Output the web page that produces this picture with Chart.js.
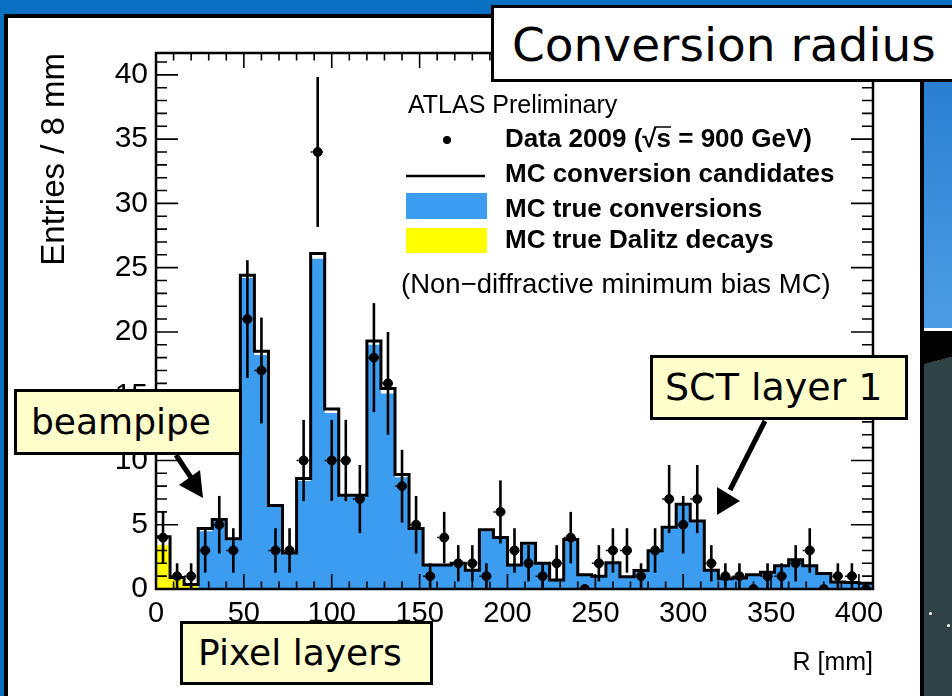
<!DOCTYPE html>
<html>
<head>
<meta charset="utf-8">
<script src="https://cdn.jsdelivr.net/npm/chart.js@4.4.0/dist/chart.umd.min.js"></script>
<style>
  html, body { margin: 0; padding: 0; }
  body { width: 952px; height: 696px; overflow: hidden; position: relative; background: #0a70c2; }
  #sideBlue { position: absolute; left: 922px; top: 80px; width: 30px; height: 248px; background: linear-gradient(#2a7fd2, #4c9de3); }
  #sideLine { position: absolute; left: 922px; top: 328px; width: 30px; height: 3px; background: #fff; }
  #sideDark { position: absolute; left: 922px; top: 331px; width: 30px; height: 365px; background: linear-gradient(165deg, #000 0 9%, #2f4347 9% 100%); }
  .star { position: absolute; width: 3px; height: 3px; border-radius: 50%; background: #fff; }
  #plotFrame { position: absolute; left: 4px; top: 14px; width: 920px; height: 700px; background: #fff; border: 4px solid #000; box-sizing: border-box; }
  #chartBox { position: absolute; left: 0; top: 0; width: 952px; height: 696px; }
  #titleBox { position: absolute; left: 491px; top: 5px; width: 480px; height: 77px; background: #fff; border: 3px solid #000; box-sizing: border-box;
    font-family: 'DejaVu Sans', Verdana, sans-serif; font-size: 47px; line-height: 73px; padding-left: 18px; color: #000; white-space: nowrap; }
  .callout { position: absolute; background: #ffffcc; border: 3px solid #000; box-sizing: border-box;
    font-family: 'DejaVu Sans', Verdana, sans-serif; font-size: 36px; color: #000; white-space: nowrap; }
  #arrows { position: absolute; left: 0; top: 0; }
</style>
</head>
<body>
<div id="sideBlue"></div>
<div id="sideLine"></div>
<div id="sideDark"></div>
<div class="star" style="left:929px; top:612px;"></div>
<div class="star" style="left:947px; top:624px;"></div>
<div id="plotFrame"></div>
<div id="chartBox"><canvas id="convChart"></canvas></div>
<div id="titleBox">Conversion radius</div>
<div class="callout" style="left:14px; top:389px; width:228px; height:66px; line-height:60px; padding-left:14px;">beampipe</div>
<div class="callout" style="left:180px; top:621px; width:253px; height:64px; line-height:58px; padding-left:15px;">Pixel layers</div>
<div class="callout" style="left:650px; top:355px; width:258px; height:65px; line-height:59px; padding-left:12px; font-size:38px;">SCT layer 1</div>
<svg id="arrows" width="952" height="696">
  <line x1="176" y1="455" x2="192" y2="479" stroke="#000" stroke-width="5"/>
  <polygon points="203,498 179,485 200,470" fill="#000"/>
  <line x1="765" y1="421" x2="730" y2="490" stroke="#000" stroke-width="5"/>
  <polygon points="717,515 717,487 740,501" fill="#000"/>
</svg>
<script>
// histogram binning (R in mm)
const binWidth = 8;
const xMax = 408;
const yMax = 41.7;

// Data 2009 counts per bin, and their error bars
const dataCounts = [4, 1, 1, 3, 5, 3, 21, 17, 3, 3,
  10, 34, 10, 10, 7, 18, 16, 8, 5, 1,
  4, 2, 2, 1, 6, 3, 2, 1, 2, 4,
  0, 2, 3, 3, 1, 3, 7, 5, 7, 2,
  1, 1, 0, 1, 1, 2, 3, 0, 1, 1, 0];
const dataErrors = [2.0, 1.0, 1.0, 1.73, 2.24, 1.73, 4.58, 4.12, 1.73, 1.73,
  3.16, 5.83, 3.16, 3.16, 2.65, 4.24, 4.0, 2.83, 2.24, 1.0,
  2.0, 1.41, 1.41, 1.0, 2.45, 1.73, 1.41, 1.0, 1.41, 2.0,
  0, 1.41, 1.73, 1.73, 1.0, 1.73, 2.65, 2.24, 2.65, 1.41,
  1.0, 1.0, 0, 1.0, 1.0, 1.41, 1.73, 0, 1.0, 1.0, 0];

// MC conversion candidates (black outline)
const mcCandidates = [4.07, 0.9, 0.35, 4.7, 5.4, 3.9, 24.4, 18.5, 6.5, 2.8,
  8.6, 26.1, 14.0, 7.3, 7.3, 19.3, 15.6, 8.9, 4.7, 1.87,
  1.87, 2.0, 1.45, 4.6, 4.0, 1.87, 3.55, 2.0, 0.7, 3.85,
  1.1, 1.0, 2.05, 0.96, 1.43, 2.98, 4.8, 6.6, 5.3, 1.45,
  0.8, 0.85, 1.1, 1.3, 1.8, 2.28, 1.8, 1.2, 0.55, 0.5, 0.45];

// MC true conversions (blue fill)
const mcTrueConv = [0, 0, 0, 4.5, 5.3, 3.8, 24.2, 18.2, 6.4, 2.7,
  8.4, 25.7, 13.7, 7.2, 7.2, 19.0, 15.2, 8.7, 4.6, 1.8,
  1.8, 1.9, 1.4, 4.5, 3.9, 1.8, 3.45, 1.95, 0.65, 3.75,
  1.05, 0.95, 2.0, 0.9, 1.4, 2.9, 4.7, 6.5, 5.2, 1.4,
  0.75, 0.8, 1.05, 1.25, 1.75, 2.2, 1.75, 1.15, 0.5, 0.45, 0.4];

// MC true Dalitz decays (yellow fill)
const mcDalitz = [3.4, 0.75, 0.25, 0, 0, 0, 0, 0, 0, 0,
  0, 0, 0, 0, 0, 0, 0, 0, 0, 0,
  0, 0, 0, 0, 0, 0, 0, 0, 0, 0,
  0, 0, 0, 0, 0, 0, 0, 0, 0, 0,
  0, 0, 0, 0, 0, 0, 0, 0, 0, 0, 0];

const blueFill = "#3b9cf0";
const rootFont = "'Liberation Sans', Arial, Helvetica, sans-serif";

// one point per bin low edge, plus the closing edge
function stepPoints(vals) {
  const pts = vals.map((v, i) => ({ x: i * binWidth, y: v }));
  pts.push({ x: vals.length * binWidth, y: vals[vals.length - 1] });
  return pts;
}

// ROOT style frame with inward ticks on all four sides
const frameTicks = {
  id: "frameTicks",
  afterDatasetsDraw(chart) {
    const { ctx, chartArea: a, scales: { x, y } } = chart;
    ctx.save();
    ctx.strokeStyle = "#000";
    ctx.lineWidth = 1.6;
    ctx.beginPath();
    for (let v = 0; v <= xMax; v += 10) {
      const px = x.getPixelForValue(v);
      const len = v % 50 === 0 ? 15 : 7.5;
      ctx.moveTo(px, a.bottom); ctx.lineTo(px, a.bottom - len);
      ctx.moveTo(px, a.top); ctx.lineTo(px, a.top + len);
    }
    for (let v = 0; v <= yMax; v += 1) {
      const py = y.getPixelForValue(v);
      const len = v % 5 === 0 ? 22 : 11;
      ctx.moveTo(a.left, py); ctx.lineTo(a.left + len, py);
      ctx.moveTo(a.right, py); ctx.lineTo(a.right - len, py);
    }
    ctx.stroke();
    ctx.lineWidth = 2.5;
    ctx.strokeRect(a.left, a.top, a.right - a.left, a.bottom - a.top);
    ctx.restore();
  }
};

// error bars for the data points
const errorBars = {
  id: "errorBars",
  afterDatasetsDraw(chart) {
    const { ctx, scales: { x, y } } = chart;
    ctx.save();
    ctx.strokeStyle = "#000";
    dataCounts.forEach((n, i) => {
      const cx = x.getPixelForValue(i * binWidth + binWidth / 2);
      const cy = y.getPixelForValue(n);
      const half = (x.getPixelForValue(binWidth) - x.getPixelForValue(0)) / 2;
      ctx.setLineDash([2, 3]);
      ctx.lineWidth = 1.5;
      ctx.beginPath();
      ctx.moveTo(cx - half, cy); ctx.lineTo(cx + half, cy);
      ctx.stroke();
      ctx.setLineDash([]);
      if (dataErrors[i] > 0) {
        ctx.lineWidth = 2.6;
        ctx.beginPath();
        ctx.moveTo(cx, y.getPixelForValue(n - dataErrors[i]));
        ctx.lineTo(cx, y.getPixelForValue(n + dataErrors[i]));
        ctx.stroke();
      }
    });
    ctx.restore();
  }
};

// legend block inside the frame
const atlasLegend = {
  id: "atlasLegend",
  afterDraw(chart) {
    const ctx = chart.ctx;
    ctx.save();
    ctx.fillStyle = "#000";
    ctx.textBaseline = "alphabetic";
    ctx.font = "25px " + rootFont;
    ctx.fillText("ATLAS Preliminary", 408, 113);

    ctx.beginPath();
    ctx.arc(447, 140, 4, 0, Math.PI * 2);
    ctx.fill();
    ctx.lineWidth = 2.5;
    ctx.beginPath();
    ctx.moveTo(406, 176); ctx.lineTo(485, 176);
    ctx.stroke();
    ctx.fillStyle = blueFill;
    ctx.fillRect(406, 193, 81, 26);
    ctx.fillStyle = "#ffff00";
    ctx.fillRect(406, 228, 81, 25);

    ctx.fillStyle = "#000";
    ctx.font = "bold 26px " + rootFont;
    const dataLabel = "Data 2009 (\u221As = 900 GeV)";
    ctx.fillText(dataLabel, 505, 147);
    // overline of the square root
    const pre = ctx.measureText("Data 2009 (\u221A").width;
    const sw = ctx.measureText("s").width;
    ctx.lineWidth = 1.5;
    ctx.beginPath();
    ctx.moveTo(505 + pre - 2, 127); ctx.lineTo(505 + pre + sw, 127);
    ctx.stroke();
    ctx.fillText("MC conversion candidates", 505, 182);
    ctx.fillText("MC true conversions", 505, 217);
    ctx.fillText("MC true Dalitz decays", 505, 248);
    ctx.font = "27.5px " + rootFont;
    ctx.fillText("(Non\u2212diffractive minimum bias MC)", 401, 293);
    ctx.restore();
  }
};

document.addEventListener("DOMContentLoaded", () => {
  const ctx = document.getElementById("convChart").getContext("2d");

  window.convChart = new Chart(ctx, {
    type: "line",
    data: {
      datasets: [
        {
          label: "Data 2009",
          type: "scatter",
          data: dataCounts.map((n, i) => ({ x: i * binWidth + binWidth / 2, y: n })),
          pointRadius: 4.5,
          pointBackgroundColor: "#000",
          pointBorderColor: "#000",
          showLine: false,
          order: 0,
        },
        {
          label: "MC conversion candidates",
          data: stepPoints(mcCandidates),
          stepped: "before",
          borderColor: "#000",
          borderWidth: 3,
          pointRadius: 0,
          fill: false,
          order: 1,
        },
        {
          label: "MC true Dalitz decays",
          data: stepPoints(mcDalitz),
          stepped: "before",
          borderColor: "transparent",
          borderWidth: 0,
          backgroundColor: "#ffff00",
          pointRadius: 0,
          fill: "origin",
          order: 2,
        },
        {
          label: "MC true conversions",
          data: stepPoints(mcTrueConv),
          stepped: "before",
          borderColor: "transparent",
          borderWidth: 0,
          backgroundColor: blueFill,
          pointRadius: 0,
          fill: "origin",
          order: 3,
        },
      ],
    },
    options: {
      responsive: true,
      maintainAspectRatio: false,
      animation: false,
      layout: { padding: { top: 53, right: 79, bottom: 0, left: 0 } },
      scales: {
        x: {
          type: "linear",
          min: 0,
          max: xMax,
          grid: { display: false, drawTicks: false },
          border: { display: false },
          ticks: {
            stepSize: 50,
            includeBounds: false,
            maxRotation: 0,
            padding: 8,
            color: "#000",
            font: { size: 29, family: rootFont },
          },
          title: {
            display: true,
            text: "R [mm]",
            align: "end",
            color: "#000",
            font: { size: 25, family: rootFont },
            padding: { top: 0, bottom: 18 },
          },
          afterFit(scale) {
            scale.height = 107;
            scale.paddingLeft = 0;
            scale.paddingRight = 0;
          },
        },
        y: {
          min: 0,
          max: yMax,
          grid: { display: false, drawTicks: false },
          border: { display: false },
          ticks: {
            stepSize: 5,
            includeBounds: false,
            padding: 8,
            color: "#000",
            font: { size: 30, family: rootFont },
          },
          title: {
            display: true,
            text: "Entries / 8 mm",
            align: "end",
            color: "#000",
            font: { size: 33, family: rootFont },
            padding: { top: 35, bottom: 0 },
          },
          afterFit(scale) {
            scale.width = 156;
          },
        },
      },
      plugins: {
        legend: { display: false },
        tooltip: { enabled: false },
      },
    },
    plugins: [frameTicks, errorBars, atlasLegend],
  });
});
</script>
</body>
</html>
